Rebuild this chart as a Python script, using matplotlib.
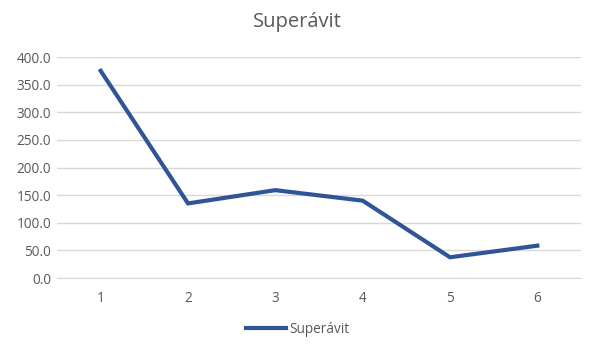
import matplotlib
matplotlib.use('Agg')
import matplotlib.pyplot as plt
from matplotlib.ticker import FormatStrFormatter

# data
periodos = [1, 2, 3, 4, 5, 6]
superavit = [375.0, 135.0, 159.0, 140.0, 37.5, 58.5]

plt.rcParams['font.family'] = ['Open Sans', 'DejaVu Sans']

fig = plt.figure(figsize=(5.95, 3.55), dpi=100)
ax = fig.add_axes([0.0958, 0.2169, 0.8807, 0.6225])

ax.plot(periodos, superavit, color='#2F5597', lw=3.0, solid_joinstyle='miter',
        label='Superávit')

ax.set_xlim(0.5, 6.5)
ax.set_ylim(0, 400)
ax.set_yticks(range(0, 401, 50))
ax.yaxis.set_major_formatter(FormatStrFormatter('%.1f'))
ax.set_xticks(periodos)
ax.grid(axis='y', color='#D9D9D9', lw=1)
ax.set_axisbelow(True)
for s in ax.spines.values():
    s.set_visible(False)
ax.spines['bottom'].set_visible(True)
ax.spines['bottom'].set_color('#D9D9D9')
ax.tick_params(length=0, colors='#595959', labelsize=9.8)
ax.tick_params(axis='x', pad=9)
ax.tick_params(axis='y', pad=4)

fig.suptitle('Superávit', x=0.5, y=0.965, fontsize=14.5, color='#595959')
fig.legend(loc='center', bbox_to_anchor=(0.5, 0.073), frameon=False,
           fontsize=9.8, labelcolor='#595959', handlelength=3.0, handletextpad=0.2)

fig.savefig('out.png', dpi=100)
